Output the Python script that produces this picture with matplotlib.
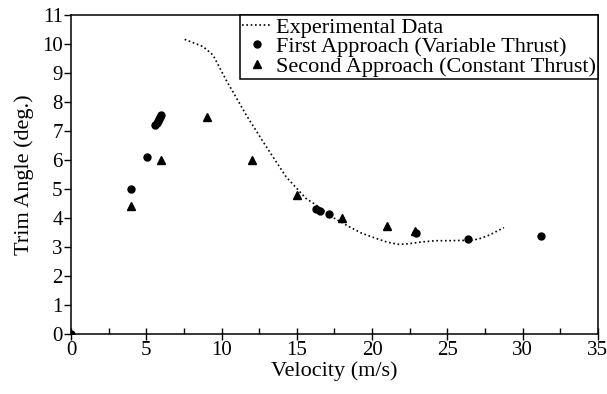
import numpy as np
import matplotlib.pyplot as plt
from matplotlib.ticker import MultipleLocator

plt.rcParams['font.family'] = ['Liberation Serif', 'DejaVu Serif']
plt.rcParams['font.size'] = 16

# experimental trim curve (dotted)
exp_v = [7.55, 8.77, 9.43, 10.3, 11.64, 12.97, 14.29, 15.6, 16.28, 17.3, 18.49,
         19.3, 20.26, 21.0, 21.8, 22.5, 23.35, 24.2, 25.1, 26.0, 26.7, 27.2, 27.77, 28.76]
exp_trim = [10.16, 9.91, 9.62, 8.76, 7.55, 6.46, 5.42, 4.68, 4.45, 4.05, 3.70,
             3.48, 3.30, 3.17, 3.09, 3.12, 3.18, 3.22, 3.22, 3.23, 3.24, 3.30, 3.41, 3.67]

# first approach (variable thrust)
first_v = [0, 4.0, 5.05, 5.6, 5.68, 5.75, 5.82, 5.9, 6.0,
           16.28, 16.55, 17.12, 22.9, 26.4, 31.2]
first_trim = [0, 5.0, 6.1, 7.2, 7.28, 7.35, 7.42, 7.5, 7.55,
              4.30, 4.25, 4.13, 3.5, 3.28, 3.38]

# second approach (constant thrust)
second_v = [4.0, 6.0, 9.0, 12.0, 15.0, 18.0, 21.0, 22.85]
second_trim = [4.4, 6.0, 7.5, 6.0, 4.8, 4.0, 3.72, 3.55]

fig = plt.figure(figsize=(6.07, 3.94), dpi=100)
ax = fig.add_axes([0.117, 0.152, 0.868, 0.810])

ax.plot(exp_v, exp_trim, color='black', lw=1.2, ls=(0, (1, 1.6)),
        label='Experimental Data')
ax.plot(first_v, first_trim, 'o', color='black', ms=5, ls='none',
        label='First Approach (Variable Thrust)')
ax.plot(second_v, second_trim, '^', color='black', ms=6, ls='none',
        label='Second Approach (Constant Thrust)')

ax.set_xlim(0, 35)
ax.set_ylim(0, 11)
ax.xaxis.set_major_locator(MultipleLocator(5))
ax.xaxis.set_minor_locator(MultipleLocator(2.5))
ax.yaxis.set_major_locator(MultipleLocator(1))
ax.tick_params(axis='x', which='major', direction='inout', length=8, width=1)
ax.tick_params(axis='x', which='minor', direction='in', length=4, width=1)
ax.tick_params(axis='y', which='major', direction='out', length=5, width=1)
ax.tick_params(labelsize=15, pad=1)
for s in ax.spines.values():
    s.set_linewidth(1.1)

ax.set_xlabel('Velocity (m/s)', fontsize=16, labelpad=1)
ax.set_ylabel('Trim Angle (deg.)', fontsize=16, labelpad=6)

leg = ax.legend(loc='upper right', bbox_to_anchor=(1, 1), borderaxespad=0,
                fancybox=False, edgecolor='black', framealpha=1, fontsize=16,
                handlelength=1.3, handletextpad=0.2, labelspacing=-0.05,
                borderpad=0.1)
leg.get_frame().set_linewidth(1.1)

fig.savefig('out.png', dpi=100)
